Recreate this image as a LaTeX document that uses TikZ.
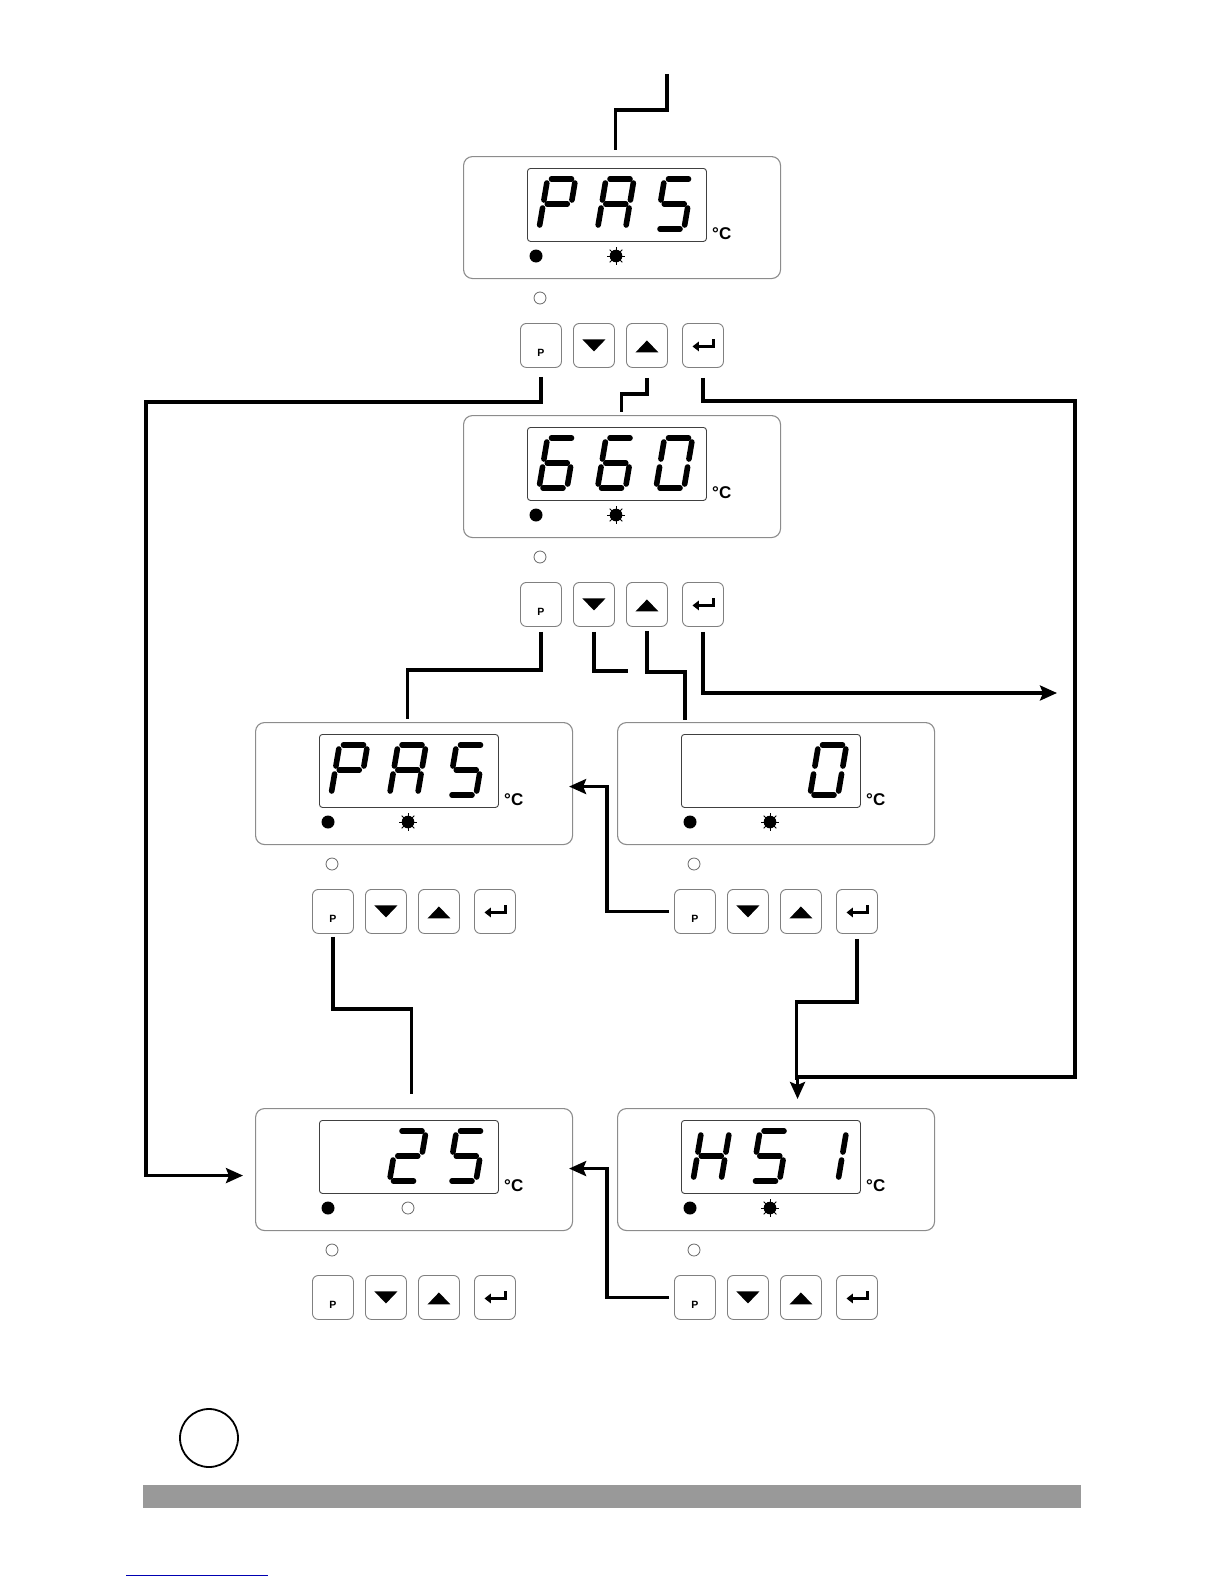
\documentclass[tikz,border=0pt]{standalone}
\usepackage{fontspec}
\setsansfont{Liberation Sans}
\usetikzlibrary{arrows.meta}

\begin{document}
\begin{tikzpicture}[x=1pt,y=-1pt,every node/.style={inner sep=0pt},
  flow/.style={line width=3.2pt},
  flowarr/.style={flow,-{Stealth[length=17pt,width=15pt,inset=3pt]}},
  frame/.style={draw=black!45,line width=1.1pt,rounded corners=9pt,
    minimum width=317pt,minimum height=122pt,anchor=north west},
  window/.style={draw=black!75,line width=0.9pt,rounded corners=3pt,
    minimum width=179pt,minimum height=73pt,anchor=north west},
  key/.style={draw=black!50,line width=0.9pt,rounded corners=6pt,
    minimum width=41pt,minimum height=44pt,anchor=north west},
  lamp/.style={circle,draw=black!60,line width=0.8pt,minimum size=12pt},
  lcdbar/.style={line width=5.6pt,line cap=round}]
  \useasboundingbox (0,0) rectangle (1224,1584);
  % seven segments of one digit
  \newcommand{\lcdsega}{\draw[lcdbar] (4,0) -- (24,0);}
  \newcommand{\lcdsegb}{\draw[lcdbar] (28,4) -- (28,21);}
  \newcommand{\lcdsegc}{\draw[lcdbar] (28,29) -- (28,46);}
  \newcommand{\lcdsegd}{\draw[lcdbar] (4,50) -- (24,50);}
  \newcommand{\lcdsege}{\draw[lcdbar] (0,29) -- (0,46);}
  \newcommand{\lcdsegf}{\draw[lcdbar] (0,4) -- (0,21);}
  \newcommand{\lcdsegg}{\draw[lcdbar] (4,25) -- (24,25);}
  \newcommand{\lcddigit}[2]{%
    \begin{scope}[shift={({84.5+58.5*(#1-1)},23)},xslant=0.17]
      \foreach \sg in {#2} {\csname lcdseg\sg\endcsname}
    \end{scope}}
  \newcommand{\starlamp}{%
    \fill (153,100) circle (6.3pt);
    \foreach \a in {0,45,...,315}
      \draw[line width=1pt] (153,100) ++(\a:5.5pt) -- ++(\a:3.5pt);}
  \newcommand{\offlamp}{\draw[black!60,line width=0.8pt] (153,100) circle (6pt);}
  \newcommand{\lcdpanel}[5]{%
    \begin{scope}[shift={(#2,#3)}]
      \node[frame] (#1) at (0,0) {};
      \node[window] (#1-win) at (64,12) {};
      \node[anchor=base west,font=\sffamily\bfseries\fontsize{17}{17}\selectfont] (#1-unit) at (249,83) {°C};
      \fill (73,100) circle (6.5pt);
      #4
      \node[lamp] (#1-lamp) at (77,142) {};
      \node[key] (#1-P) at (57,167) {};
      \node[key] (#1-dn) at (110,167) {};
      \node[key] (#1-up) at (163,167) {};
      \node[key] (#1-ent) at (219,167) {};
      \node[font=\sffamily\bfseries\fontsize{10.5}{10.5}\selectfont] (#1-Ptxt) at ([yshift=-7pt]#1-P.center) {P};
      \fill ([xshift=-11.5pt,yshift=6pt]#1-dn.center) -- ++(23,0) -- ++(-11.5,12) -- cycle;
      \fill ([xshift=-11.5pt,yshift=-7pt]#1-up.center) -- ++(23,0) -- ++(-11.5,-12) -- cycle;
      \draw[line width=3pt,-{Triangle[length=6.5pt,width=9.5pt]}]
        ([xshift=10.5pt,yshift=6pt]#1-ent.center) -- ++(0,7) -- ++(-21,0);
      #5
    \end{scope}}

  \lcdpanel{p1}{463}{156}{\starlamp}{\lcddigit{1}{a,b,e,f,g}\lcddigit{2}{a,b,c,e,f,g}\lcddigit{3}{a,c,d,f,g}}
  \lcdpanel{p2}{463}{415}{\starlamp}{\lcddigit{1}{a,c,d,e,f,g}\lcddigit{2}{a,c,d,e,f,g}\lcddigit{3}{a,b,c,d,e,f}}
  \lcdpanel{p3}{255}{722}{\starlamp}{\lcddigit{1}{a,b,e,f,g}\lcddigit{2}{a,b,c,e,f,g}\lcddigit{3}{a,c,d,f,g}}
  \lcdpanel{p4}{617}{722}{\starlamp}{\lcddigit{3}{a,b,c,d,e,f}}
  \lcdpanel{p5}{255}{1108}{\offlamp}{\lcddigit{2}{a,b,d,e,g}\lcddigit{3}{a,c,d,f,g}}
  \lcdpanel{p6}{617}{1108}{\starlamp}{\lcddigit{1}{b,c,e,f,g}\lcddigit{2}{a,c,d,f,g}\lcddigit{3}{b,c}}

  % connectors
  \coordinate (start) at (667,74);
  \coordinate (railL) at (146,402);
  \coordinate (railR) at (1075,401);
  \coordinate (dnend) at (628,671);
  \coordinate (exitR) at (1057,693);
  \draw[flow] (start) -- ++(0,36) -| ([xshift=-6.5pt,yshift=6pt]p1.north);
  \draw[flowarr] ([yshift=-9pt]p1-P.south) |- (railL) |- ([xshift=-12pt,yshift=-6pt]p5.west);
  \draw[flow] ([yshift=-10pt]p1-up.south) -- ++(0,16) -| ([xshift=-0.5pt,yshift=3pt]p2.north);
  \draw[flowarr] ([yshift=-10pt]p1-ent.south) |- (railR) -- ++(0,676) -| ([xshift=21.5pt,yshift=9pt]p6.north);
  \draw[flow] ([yshift=-5pt]p2-P.south) -- ++(0,38) -| ([xshift=-6.5pt,yshift=3pt]p3.north);
  \draw[flow] ([yshift=-5pt]p2-dn.south) |- (dnend);
  \draw[flow] ([yshift=-4pt]p2-up.south) -- ++(0,41) -| ([xshift=68pt,yshift=2pt]p4.north west);
  \draw[flowarr] ([yshift=-5pt]p2-ent.south) |- (exitR);
  \draw[flowarr] ([xshift=-5pt]p4-P.west) -- ++(-62,0) |- ([xshift=-4pt,yshift=-3pt]p3.east);
  \draw[flow] ([yshift=-5pt]p4-ent.south) -- ++(0,63) -| ([xshift=20.5pt,yshift=28pt]p6.north);
  \draw[flow] ([yshift=-3pt]p3-P.south) -- ++(0,72) -| ([xshift=-2.5pt,yshift=14pt]p5.north);
  \draw[flowarr] ([xshift=-5pt]p6-P.west) -- ++(-62,0) |- ([xshift=-4pt,yshift=1pt]p5.east);

  % page foot
  \node[circle,draw,line width=1.8pt,minimum size=58pt] (pagemark) at (209,1438) {};
  \fill[black!40] (143,1485) rectangle (1081,1508);
  \draw[blue!70!black,line width=1pt] (126,1575) -- (268,1575);
\end{tikzpicture}
\end{document}
